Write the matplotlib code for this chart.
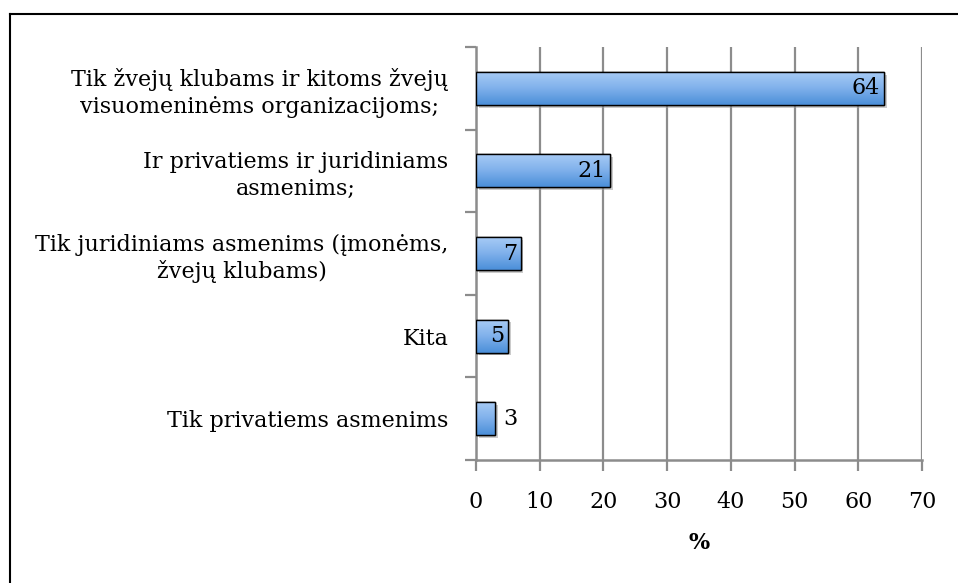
import matplotlib
matplotlib.use("Agg")
import matplotlib.pyplot as plt
import numpy as np
from matplotlib.patches import Rectangle
from matplotlib.lines import Line2D
from matplotlib.colors import LinearSegmentedColormap
import matplotlib.patheffects as pe

categories = [
    "Tik žvejų klubams ir kitoms žvejų\nvisuomeninėms organizacijoms;",
    "Ir privatiems ir juridiniams\nasmenims;",
    "Tik juridiniams asmenims (įmonėms,\nžvejų klubams)",
    "Kita",
    "Tik privatiems asmenims",
]
values = [64, 21, 7, 5, 3]
xticks = [0, 10, 20, 30, 40, 50, 60, 70]
xlabel = "%"

plt.rcParams['font.family'] = ['DejaVu Serif']

W, H = 958, 583
fig = plt.figure(figsize=(W / 100, H / 100), dpi=100)
ax = fig.add_axes([476 / W, 1 - 460 / H, (922 - 476) / W, (460 - 47) / H])

n = len(categories)
ypos = np.arange(n)[::-1]  # first category on top
bar_h = 0.4
grid_col = '#8c8c8c'
fs = 16

ax.set_xlim(0, 70)
ax.set_ylim(-0.5, n - 0.5)

for x in xticks[1:]:
    ax.axvline(x, color=grid_col, lw=1.6, zorder=0)

grad = np.linspace(0, 1, 64).reshape(-1, 1)
cmap = LinearSegmentedColormap.from_list('g', ['#a9ccf6', '#80b1eb', '#4b8fd9'])

for y, v in zip(ypos, values):
    rect = Rectangle((0, y - bar_h / 2), v, bar_h, facecolor='#7fb0ea', edgecolor='black',
                     lw=1.0, zorder=3)
    rect.set_path_effects([pe.SimplePatchShadow(offset=(2, -2), shadow_rgbFace='#999999', alpha=0.5),
                           pe.Normal()])
    ax.add_patch(rect)
    im = ax.imshow(grad, cmap=cmap, aspect='auto', origin='upper',
                   extent=(0, v, y - bar_h / 2, y + bar_h / 2), zorder=4,
                   interpolation='bicubic')
    im.set_clip_path(rect)
    edge = Rectangle((0, y - bar_h / 2), v, bar_h, facecolor='none', edgecolor='black',
                     lw=1.0, zorder=5)
    ax.add_patch(edge)
    if v >= 5:
        ax.text(v - 0.6, y, str(v), ha='right', va='center', fontsize=fs, zorder=6)
    else:
        ax.text(v + 1.2, y, str(v), ha='left', va='center', fontsize=fs, zorder=6)

ax.set_xticks(xticks)
ax.set_xticklabels([str(t) for t in xticks], fontsize=fs)
ax.set_yticks(ypos)
ax.set_yticklabels(categories, fontsize=fs, multialignment='center', linespacing=1.25)
ax.tick_params(axis='y', length=0, pad=20)
ax.set_yticks(np.arange(-0.5, n, 1.0), minor=True)
ax.tick_params(axis='y', which='minor', length=8, width=1.6, color=grid_col, direction='out')
ax.tick_params(axis='x', length=8, width=1.6, color=grid_col, direction='out', pad=14)

for s in ['top', 'right']:
    ax.spines[s].set_visible(False)
for s in ['left', 'bottom']:
    ax.spines[s].set_color(grid_col)
    ax.spines[s].set_linewidth(1.8)

ax.set_xlabel(xlabel, fontsize=fs, fontweight='bold', labelpad=14)

# outer frame (top and left only, as in reference)
fig.add_artist(Line2D([10 / W, 1], [1 - 14 / H, 1 - 14 / H], color='black', lw=1.5))
fig.add_artist(Line2D([10 / W, 10 / W], [0, 1 - 14 / H], color='black', lw=1.5))

fig.savefig('out.png', dpi=100)
